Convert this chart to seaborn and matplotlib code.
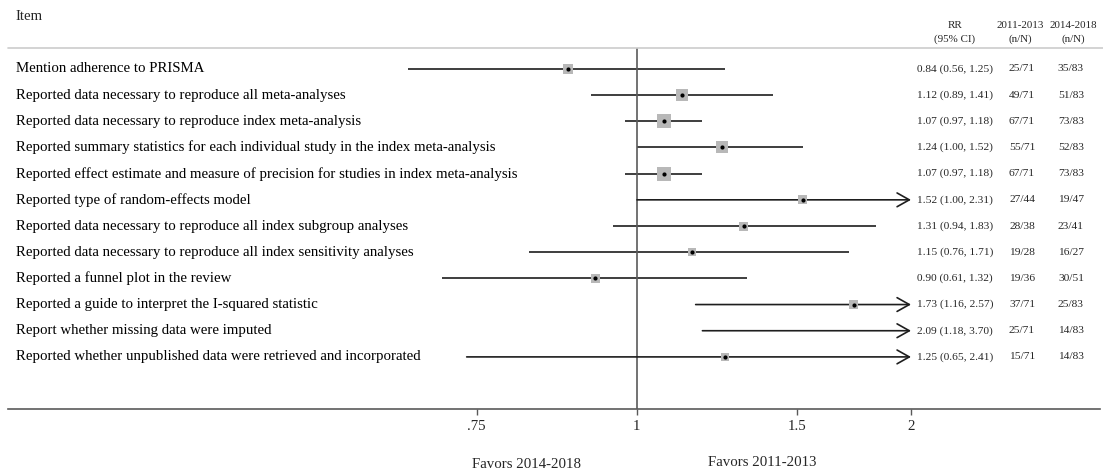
import numpy as np
import pandas as pd
import matplotlib
matplotlib.use("Agg")
import matplotlib.pyplot as plt
from matplotlib.transforms import blended_transform_factory
from matplotlib.lines import Line2D
import seaborn as sns

# ---- data -------------------------------------------------------------
items = [
    "Mention adherence to PRISMA",
    "Reported data necessary to reproduce all meta-analyses",
    "Reported data necessary to reproduce index meta-analysis",
    "Reported summary statistics for each individual study in the index meta-analysis",
    "Reported effect estimate and measure of precision for studies in index meta-analysis",
    "Reported type of random-effects model",
    "Reported data necessary to reproduce all index subgroup analyses",
    "Reported data necessary to reproduce all index sensitivity analyses",
    "Reported a funnel plot in the review",
    "Reported a guide to interpret the I-squared statistic",
    "Report whether missing data were imputed",
    "Reported whether unpublished data were retrieved and incorporated",
]
rr = [0.84, 1.12, 1.07, 1.24, 1.07, 1.52, 1.31, 1.15, 0.90, 1.73, 2.09, 1.25]
ci_low = [0.56, 0.89, 0.97, 1.00, 0.97, 1.00, 0.94, 0.76, 0.61, 1.16, 1.18, 0.65]
ci_high = [1.25, 1.41, 1.18, 1.52, 1.18, 2.31, 1.83, 1.71, 1.32, 2.57, 3.70, 2.41]
n_early = ["25/71", "49/71", "67/71", "55/71", "67/71", "27/44",
           "28/38", "19/28", "19/36", "37/71", "25/71", "15/71"]
n_late = ["35/83", "51/83", "73/83", "52/83", "73/83", "19/47",
          "23/41", "16/27", "30/51", "25/83", "14/83", "14/83"]
weights = [100, 144, 196, 144, 196, 81, 81, 64, 81, 81, 81, 64]

tick_values = [2 / 3, 1, 1.5, 2]
tick_labels = [".75", "1", "1.5", "2"]
x_cap = 2.0

df = pd.DataFrame({"label": items, "rr": rr, "lo": ci_low, "hi": ci_high,
                   "w": weights})
df["row"] = np.arange(len(df))

# ---- figure -----------------------------------------------------------
sns.set_theme(style="white")
plt.rcParams["font.family"] = ["Liberation Serif", "DejaVu Serif"]

W, H = 1103, 476
fig = plt.figure(figsize=(W / 100, H / 100), dpi=100)
ax = fig.add_axes([8 / W, 1 - 409 / H, (1100 - 8) / W, (409 - 48) / H])
ax.set_xscale("log")
ax.set_xlim(0.2037, 3.226)
ax.set_ylim(12.99, -0.80)

dark = "#1e1e1e"
axis_col = "#5a5a5a"

# confidence intervals, clipped at the axis cap with an arrow
for r in df.itertuples():
    hi = min(r.hi, x_cap)
    if r.hi > x_cap:
        ax.annotate("", xy=(hi, r.row), xytext=(r.lo, r.row),
                    arrowprops=dict(arrowstyle="->,head_length=0.8,head_width=0.45",
                                    color=dark, lw=1.2, shrinkA=0, shrinkB=0,
                                    mutation_scale=11))
    else:
        ax.plot([r.lo, hi], [r.row, r.row], color=dark, lw=1.2,
                solid_capstyle="butt")

shown = df[df.rr <= x_cap].copy()
shown["area"] = shown.w * 0.72 ** 2
sns.scatterplot(data=shown, x="rr", y="row", marker="s", s=shown["area"].to_numpy(),
                color="#b8b8b8", linewidth=0, legend=False, ax=ax, zorder=3)
sns.scatterplot(data=shown, x="rr", y="row", marker="o", s=9,
                color="black", linewidth=0, legend=False, ax=ax, zorder=4)

ax.axvline(1, color=axis_col, lw=1.2, zorder=2)

for side in ["left", "right", "top"]:
    ax.spines[side].set_visible(False)
ax.spines["bottom"].set_color(axis_col)
ax.spines["bottom"].set_linewidth(1.2)

ax.set_xticks(tick_values)
ax.set_xticklabels(tick_labels)
ax.xaxis.set_minor_locator(plt.NullLocator())
ax.tick_params(axis="x", direction="out", length=4, width=1, color=axis_col,
               labelsize=10.7, pad=4, bottom=True)
ax.set_yticks([])
ax.set_xlabel("")
ax.set_ylabel("")

# header rule
fig.add_artist(Line2D([8 / W, 1.0], [1 - 48 / H, 1 - 48 / H],
                      color="#cccccc", lw=1.2))

# text columns
tr = blended_transform_factory(fig.transFigure, ax.transData)
lab_size = 10.7
col_size = 8.2
head_size = 7.9
for r in df.itertuples():
    fig.text(16 / W, r.row, r.label, transform=tr, ha="left", va="center",
             fontsize=lab_size, color="black")
    fig.text(955 / W, r.row, f"{r.rr:.2f} ({r.lo:.2f}, {r.hi:.2f})",
             transform=tr, ha="center", va="center", fontsize=col_size)
for i, (a, b) in enumerate(zip(n_early, n_late)):
    fig.text(1022 / W, i, a, transform=tr, ha="center", va="center",
             fontsize=col_size)
    fig.text(1071 / W, i, b, transform=tr, ha="center", va="center",
             fontsize=col_size)

fig.text(16 / W, 1 - 16 / H, "Item", ha="left", va="center", fontsize=lab_size)
fig.text(955 / W, 1 - 25 / H, "RR", ha="center", va="center", fontsize=head_size)
fig.text(955 / W, 1 - 39 / H, "(95% CI)", ha="center", va="center",
         fontsize=head_size)
fig.text(1020 / W, 1 - 25 / H, "2011-2013", ha="center", va="center",
         fontsize=head_size)
fig.text(1020 / W, 1 - 39 / H, "(n/N)", ha="center", va="center",
         fontsize=head_size)
fig.text(1073 / W, 1 - 25 / H, "2014-2018", ha="center", va="center",
         fontsize=head_size)
fig.text(1073 / W, 1 - 39 / H, "(n/N)", ha="center", va="center",
         fontsize=head_size)

fig.text(527 / W, 1 - 465 / H, "Favors 2014-2018", ha="center", va="center",
         fontsize=lab_size)
fig.text(762 / W, 1 - 463 / H, "Favors 2011-2013", ha="center", va="center",
         fontsize=lab_size)

fig.savefig("out.png", dpi=100, facecolor="white")
